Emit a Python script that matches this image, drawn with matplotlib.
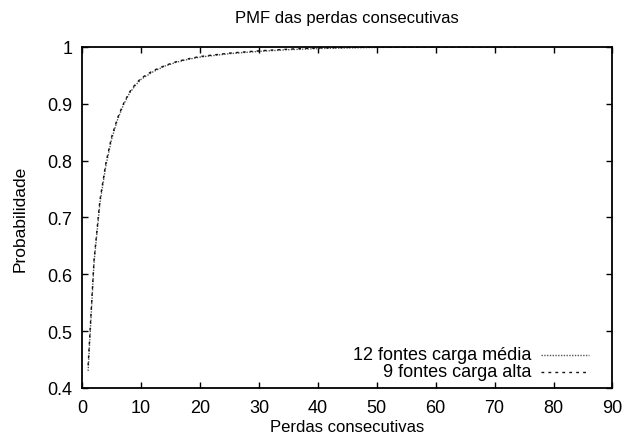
import matplotlib
matplotlib.use("Agg")
import matplotlib.pyplot as plt
from matplotlib.lines import Line2D

plt.rcParams['font.family'] = ['Liberation Sans', 'DejaVu Sans']

# perdas consecutivas (x) e probabilidade acumulada (y)
x_media = [1, 2, 3, 4, 5, 6, 7, 8, 9, 10, 12, 14, 16, 18, 20, 25, 30, 35, 40, 45, 50, 60, 70, 80, 90]
y_media = [0.43, 0.62, 0.725, 0.79, 0.838, 0.872, 0.898, 0.918, 0.932, 0.943, 0.956, 0.966,
           0.973, 0.978, 0.982, 0.988, 0.992, 0.995, 0.997, 0.998, 0.999, 0.9995, 1.0, 1.0, 1.0]

x_alta = [1, 2, 3, 4, 5, 6, 7, 8, 9, 10, 12, 14, 16, 18, 20, 25, 30, 35, 40, 45, 50, 60, 74]
y_alta = [0.44, 0.625, 0.73, 0.795, 0.842, 0.875, 0.90, 0.92, 0.934, 0.945, 0.958, 0.967,
          0.974, 0.979, 0.983, 0.989, 0.993, 0.996, 0.998, 0.999, 0.9995, 1.0, 1.0]

labels = ['12 fontes carga média', '9 fontes carga alta']
styles = [(0, (1, 1)), (0, (2, 3))]
colors = ['#555555', '#111111']

fig = plt.figure(figsize=(6.23, 4.39), dpi=100)
ax = fig.add_axes([0.132, 0.114, 0.851, 0.777])

ax.plot(x_media, y_media, color=colors[0], lw=1.0, ls=styles[0])
ax.plot(x_alta, y_alta, color=colors[1], lw=1.0, ls=styles[1])

ax.set_xlim(0, 90)
ax.set_ylim(0.4, 1.0)
ax.set_xticks(range(0, 91, 10))
ax.set_yticks([0.4, 0.5, 0.6, 0.7, 0.8, 0.9, 1.0])
ax.set_yticklabels(['0.4', '0.5', '0.6', '0.7', '0.8', '0.9', '1'])
ax.tick_params(direction='in', top=True, right=True, length=4, width=1, labelsize=13)
ax.tick_params(axis='x', pad=8)
ax.tick_params(axis='y', pad=7)
for s in ax.spines.values():
    s.set_linewidth(1.3)

ax.set_title('PMF das perdas consecutivas', fontsize=12, pad=18)
ax.set_xlabel('Perdas consecutivas', fontsize=12, labelpad=2)
ax.set_ylabel('Probabilidade', fontsize=12.5, labelpad=14)

# chave no estilo gnuplot: texto alinhado à direita, amostra de linha depois
for i, lab in enumerate(labels):
    yk = 0.097 - i * 0.05
    ax.text(0.848, yk, lab, transform=ax.transAxes, ha='right', va='center', fontsize=13)
    ax.add_line(Line2D([0.865, 0.955], [yk, yk], transform=ax.transAxes,
                       color=colors[i], lw=1.0, ls=styles[i]))

fig.savefig('out.png', dpi=100)
